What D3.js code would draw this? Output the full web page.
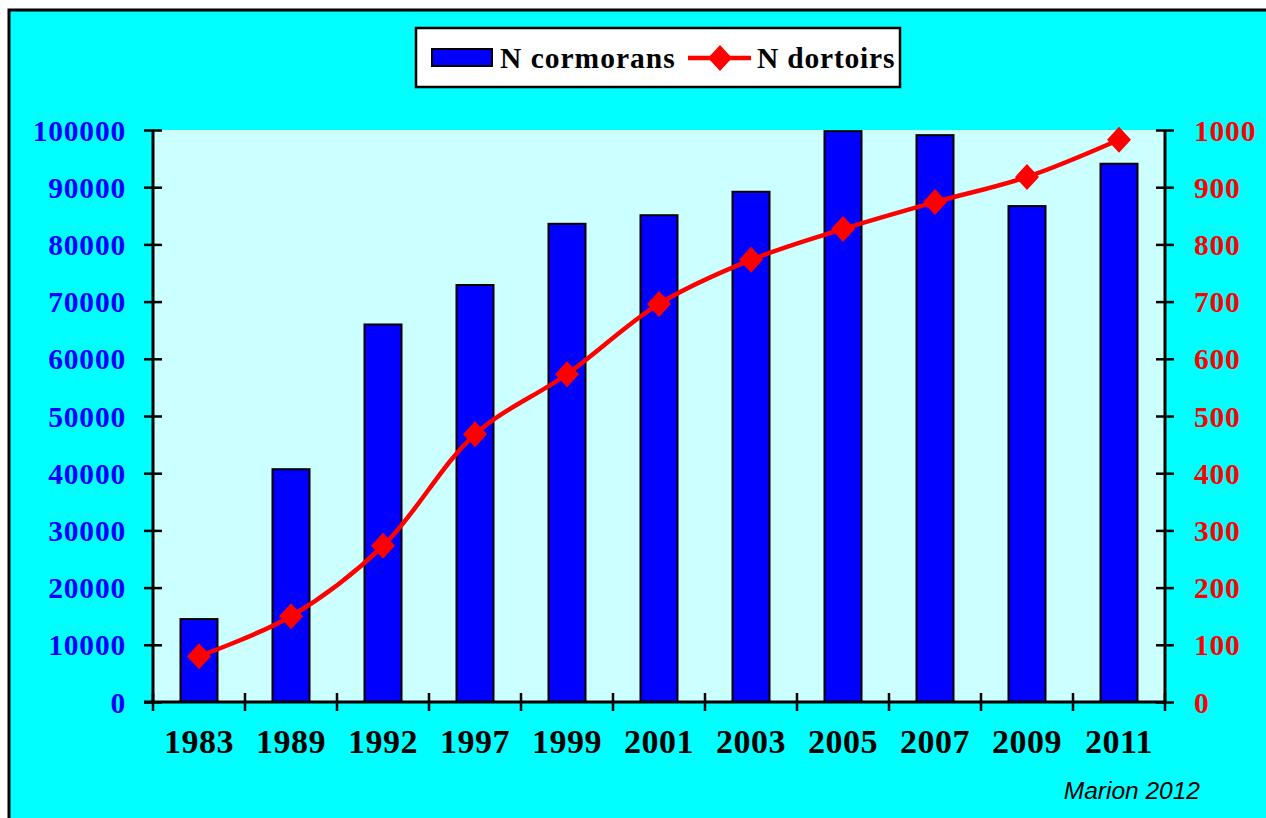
<!DOCTYPE html>
<html><head><meta charset="utf-8">
<script src="https://cdn.jsdelivr.net/npm/d3@7"></script>
<style>html,body{margin:0;padding:0;background:#fff;}svg{display:block;}</style>
</head><body>
<svg id="c" width="1266" height="818"></svg>
<script>
const years = ["1983","1989","1992","1997","1999","2001","2003","2005","2007","2009","2011"];
const cormorans = [14500,40700,66000,72900,83600,85100,89200,99800,99100,86700,94100];
const dortoirs = [80,150,273,468,573,696,773,827,874,918,983];
const leftTicks = [0,10000,20000,30000,40000,50000,60000,70000,80000,90000,100000];
const rightTicks = [0,100,200,300,400,500,600,700,800,900,1000];

const svg = d3.select("#c");
const W = 1266, H = 818;
const m = {l:153, t:130, r:1165, b:702};

svg.append("rect").attr("x",9).attr("y",10).attr("width",W).attr("height",H)
  .attr("fill","#00FFFF").attr("stroke","#000").attr("stroke-width",3);
svg.append("rect").attr("x",m.l).attr("y",m.t).attr("width",m.r-m.l).attr("height",m.b-m.t)
  .attr("fill","#CCFFFF");

const xb = d3.scaleBand().domain(years).range([m.l,m.r]);
const yL = d3.scaleLinear().domain([0,100000]).range([m.b,m.t]);
const yR = d3.scaleLinear().domain([0,1000]).range([m.b,m.t]);

// bars
svg.append("g").selectAll("rect").data(years).join("rect")
  .attr("x",d=>xb(d)+xb.bandwidth()/2-18.5)
  .attr("width",37)
  .attr("y",(d,i)=>yL(cormorans[i]))
  .attr("height",(d,i)=>m.b-yL(cormorans[i]))
  .attr("fill","#0000FF").attr("stroke","#000").attr("stroke-width",2);

// axes
const serif = "'Liberation Serif','Times New Roman',serif";
const gl = svg.append("g").attr("transform",`translate(${m.l},0)`)
  .call(d3.axisLeft(yL).tickValues(leftTicks).tickSize(9).tickFormat(d3.format("d")));
gl.selectAll(".tick line").attr("x2",-9).attr("x1",9).attr("stroke","#000").attr("stroke-width",2.5);
gl.select(".domain").attr("stroke","#000").attr("stroke-width",3).attr("d",`M0,${m.t}V${m.b}`);
gl.selectAll(".tick text").attr("x",-27).attr("dy","0.34em").attr("fill","#0000FF")
  .style("font-family",serif).style("font-weight","bold").style("font-size","29.5px").style("letter-spacing","0.8px");

const gr = svg.append("g").attr("transform",`translate(${m.r},0)`)
  .call(d3.axisRight(yR).tickValues(rightTicks).tickSize(9).tickFormat(d3.format("d")));
gr.selectAll(".tick line").attr("x1",-9).attr("x2",9).attr("stroke","#000").attr("stroke-width",2.5);
gr.select(".domain").attr("stroke","#000").attr("stroke-width",3).attr("d",`M0,${m.t}V${m.b}`);
gr.selectAll(".tick text").attr("x",29).attr("dy","0.34em").attr("fill","#FF0000")
  .style("font-family",serif).style("font-weight","bold").style("font-size","29.5px").style("letter-spacing","0.8px");

// bottom axis
const gb = svg.append("g").attr("transform",`translate(0,${m.b})`);
gb.append("line").attr("x1",m.l-9).attr("x2",m.r).attr("y1",0).attr("y2",0)
  .attr("stroke","#000").attr("stroke-width",3);
const bounds = years.map(d=>xb(d)).concat([m.r]);
gb.selectAll("line.t").data(bounds).join("line").attr("class","t")
  .attr("x1",d=>d).attr("x2",d=>d).attr("y1",-9).attr("y2",9)
  .attr("stroke","#000").attr("stroke-width",2.5);
gb.selectAll("text").data(years).join("text")
  .attr("x",d=>xb(d)+xb.bandwidth()/2).attr("y",51)
  .attr("text-anchor","middle").attr("fill","#000")
  .style("font-family",serif).style("font-weight","bold").style("font-size","34px").style("letter-spacing","0.5px")
  .text(d=>d);

// line
const line = d3.line().x((d,i)=>xb(years[i])+xb.bandwidth()/2).y(d=>yR(d)).curve(d3.curveCatmullRom.alpha(0.5));
svg.append("path").datum(dortoirs).attr("d",line).attr("fill","none")
  .attr("stroke","#FF0000").attr("stroke-width",4.5);
const diamond = "M0,-13L12,0L0,13L-12,0Z";
svg.append("g").selectAll("path").data(dortoirs).join("path")
  .attr("transform",(d,i)=>`translate(${xb(years[i])+xb.bandwidth()/2},${yR(d)})`)
  .attr("d",diamond).attr("fill","#FF0000");

// legend
const lg = svg.append("g");
lg.append("rect").attr("x",416).attr("y",28).attr("width",484).attr("height",59)
  .attr("fill","#fff").attr("stroke","#000").attr("stroke-width",2.5);
lg.append("rect").attr("x",432).attr("y",49).attr("width",60).attr("height",17)
  .attr("fill","#0000FF").attr("stroke","#000").attr("stroke-width",2);
lg.append("text").attr("x",500).attr("y",68).text("N cormorans")
  .style("font-family",serif).style("font-weight","bold").style("font-size","29.5px").style("letter-spacing","1px").attr("fill","#000");
lg.append("line").attr("x1",688).attr("x2",751).attr("y1",58).attr("y2",58)
  .attr("stroke","#FF0000").attr("stroke-width",4.5);
lg.append("path").attr("transform","translate(720,58)").attr("d",diamond).attr("fill","#FF0000");
lg.append("text").attr("x",757).attr("y",68).text("N dortoirs")
  .style("font-family",serif).style("font-weight","bold").style("font-size","29.5px").style("letter-spacing","0.8px").attr("fill","#000");

// footer
svg.append("text").attr("x",1200).attr("y",799).attr("text-anchor","end").text("Marion 2012")
  .style("font-family","'Liberation Sans',Arial,sans-serif").style("font-style","italic")
  .style("font-size","24.5px").attr("fill","#000");
</script>
</body></html>
